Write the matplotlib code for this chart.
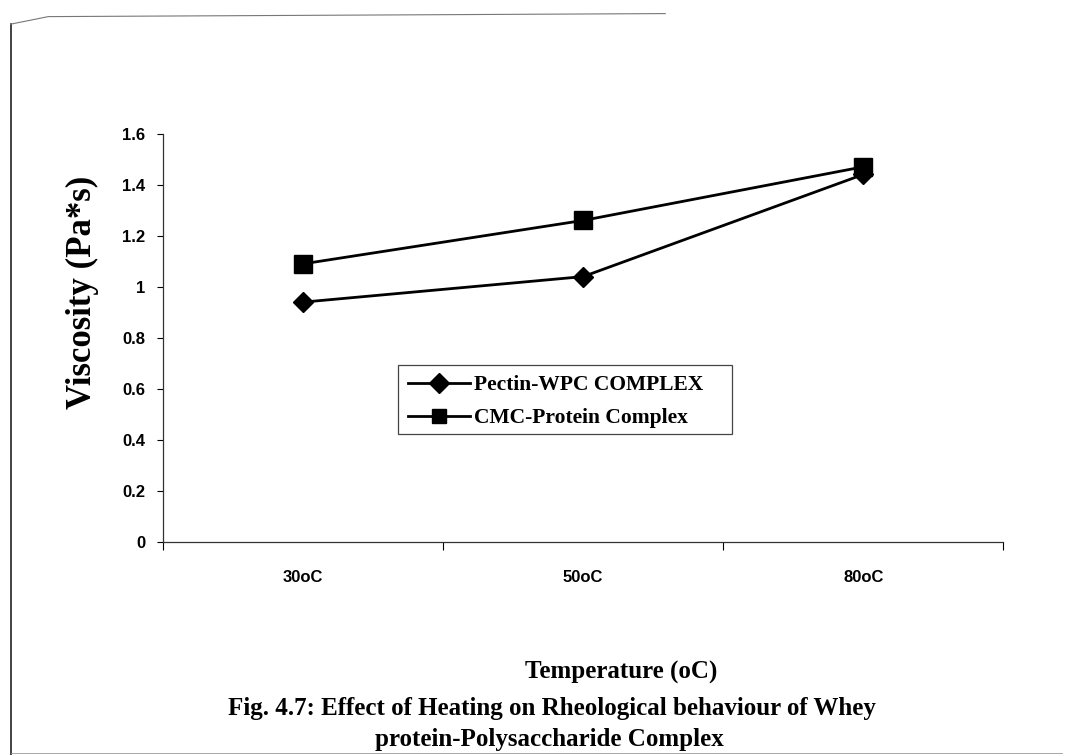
import numpy as np
import matplotlib.pyplot as plt
from matplotlib.lines import Line2D
from matplotlib.patches import Rectangle

# Viscosity of the two complexes at each heating temperature
temperatures = ['30oC', '50oC', '80oC']
pectin_wpc = [0.94, 1.04, 1.44]
cmc_protein = [1.09, 1.26, 1.47]
y_ticks = [0, 0.2, 0.4, 0.6, 0.8, 1, 1.2, 1.4, 1.6]
y_tick_labels = ['0', '0.2', '0.4', '0.6', '0.8', '1', '1.2', '1.4', '1.6']

serif_bold = {'family': 'Liberation Serif', 'weight': 'bold'}
sans_bold = {'family': 'Liberation Sans', 'weight': 'bold'}

fig = plt.figure(figsize=(10.73, 7.55), dpi=100)
ax = fig.add_axes([0.152, 0.282, 0.783, 0.541])

x = np.arange(len(temperatures))
ax.plot(x, pectin_wpc, color='black', lw=2.0, marker='D', ms=10,
        label='Pectin-WPC COMPLEX')
ax.plot(x, cmc_protein, color='black', lw=2.0, marker='s', ms=12.5,
        label='CMC-Protein Complex')

ax.set_xlim(-0.5, len(temperatures) - 0.5)
ax.set_ylim(0, 1.6)

# category boundaries get the tick marks, labels sit between them
ax.set_xticks(np.arange(len(temperatures) + 1) - 0.5)
ax.set_xticklabels([])
ax.set_xticks(x, minor=True)
ax.set_xticklabels(temperatures, minor=True, fontdict=sans_bold, fontsize=12)
ax.tick_params(axis='x', which='major', direction='out', length=6, width=0.8)
ax.tick_params(axis='x', which='minor', length=0, pad=20)

ax.set_yticks(y_ticks)
ax.set_yticklabels(y_tick_labels, fontdict=sans_bold, fontsize=12)
ax.tick_params(axis='y', direction='out', length=4, width=0.8, pad=9)

for side in ['top', 'right']:
    ax.spines[side].set_visible(False)
for side in ['left', 'bottom']:
    ax.spines[side].set_linewidth(0.9)
    ax.spines[side].set_color('#333333')

fig.text(0.077, 0.613, 'Viscosity (Pa*s)', rotation=90, ha='center', va='center',
         fontsize=25, **serif_bold)
fig.text(0.579, 0.109, 'Temperature (oC)', ha='center', va='center',
         fontsize=18, **serif_bold)
fig.text(0.514, 0.062, 'Fig. 4.7: Effect of Heating on Rheological behaviour of Whey',
         ha='center', va='center', fontsize=18, **serif_bold)
fig.text(0.512, 0.020, 'protein-Polysaccharide Complex',
         ha='center', va='center', fontsize=18, **serif_bold)

# legend entries without their own frame; the box is drawn separately
leg = fig.legend(loc='upper left', bbox_to_anchor=(0.371, 0.516),
                 prop={'family': 'Liberation Serif', 'weight': 'bold', 'size': 15.5},
                 handlelength=2.9, handletextpad=0.18, borderpad=0.45,
                 labelspacing=0.6, borderaxespad=0, frameon=False)
for h in leg.legend_handles:
    h.set_markersize(10.5)
fig.add_artist(Rectangle((0.371, 0.4255), 0.311, 0.0905, transform=fig.transFigure,
                         fill=False, edgecolor='#444444', lw=0.9))

# page border of the scanned sheet
fig.add_artist(Line2D([0.010, 0.010], [0.0, 0.968], color='#222222', lw=1.2))
fig.add_artist(Line2D([0.010, 0.045, 0.62], [0.968, 0.978, 0.982],
                      color='#777777', lw=0.8))
fig.add_artist(Line2D([0.010, 0.99], [0.003, 0.003], color='#999999', lw=0.6))

fig.savefig('out.png', dpi=100)
